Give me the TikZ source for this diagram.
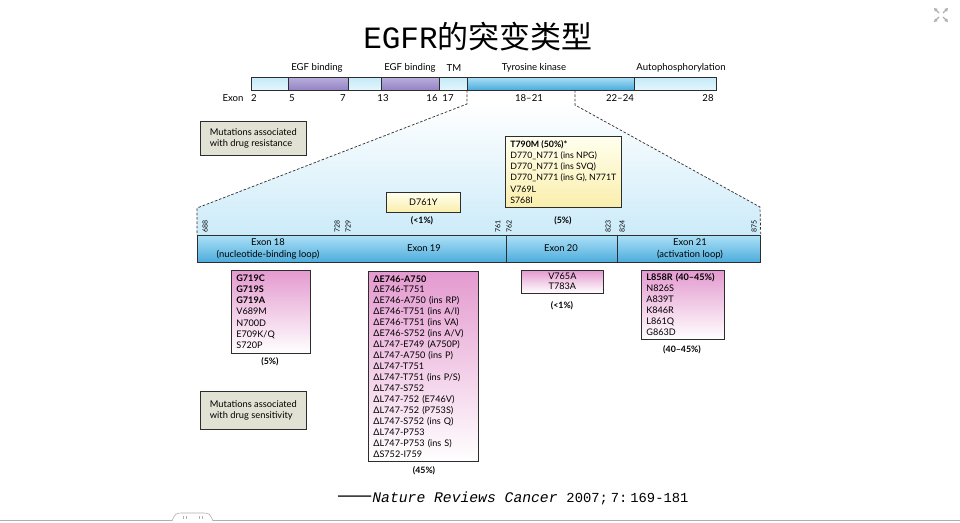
\documentclass[tikz,border=0pt]{standalone}
\usepackage{fontspec}
\setmainfont{Lato}
\newfontfamily\cjkf{Noto Sans CJK SC}
\newfontfamily\titlemono{Liberation Mono}
\usetikzlibrary{arrows.meta}
\definecolor{segT}{RGB}{196,233,248}
\definecolor{segB}{RGB}{226,246,253}
\definecolor{purT}{RGB}{186,174,220}
\definecolor{purB}{RGB}{148,132,196}
\definecolor{tkT}{RGB}{172,224,246}
\definecolor{tkB}{RGB}{76,172,220}
\definecolor{pinkT}{RGB}{228,154,207}
\definecolor{yelT}{RGB}{255,255,238}
\definecolor{yelB}{RGB}{250,238,172}
\definecolor{legfill}{RGB}{226,226,212}
\definecolor{trapB}{RGB}{204,235,249}
\definecolor{edge}{RGB}{45,45,45}
\definecolor{chrome}{RGB}{175,175,175}
\tikzset{
  small/.style={font=\fontsize{9.6}{11}\selectfont, inner sep=0pt},
  exlab/.style={font=\fontsize{9.4}{11.5}\selectfont, inner sep=0pt},
  numsty/.style={font=\fontsize{7}{7}\selectfont, inner sep=0pt, rotate=90, anchor=west},
  boxbase/.style={draw=edge, line width=0.7pt, anchor=north west, inner xsep=5pt, inner ysep=4pt,
    font=\fontsize{9.1}{11.2}\selectfont},
  mbox/.style={boxbase, top color=pinkT, bottom color=white, align=left},
  ybox/.style={boxbase, top color=yelT, bottom color=yelB, align=left},
  legbox/.style={boxbase, fill=legfill, align=left, inner xsep=8pt, inner ysep=5pt,
    font=\fontsize{9.3}{11.6}\selectfont},
  pct/.style={font=\bfseries\fontsize{8.8}{10}\selectfont, inner sep=0pt},
  dashline/.style={draw=edge, line width=0.7pt, dash pattern=on 2.6pt off 1.8pt},
  lightseg/.style={top color=segT, bottom color=segB},
  purseg/.style={top color=purT, bottom color=purB},
  tkseg/.style={top color=tkT, bottom color=tkB},
}
\begin{document}
\begin{tikzpicture}[x=1pt, y=-1pt]
\useasboundingbox (0,0) rectangle (960,522);
\fill[white] (0,0) rectangle (960,522);

% title
\node[inner sep=0pt] (title) at (478,37) {\fontsize{31}{34}\selectfont{\titlemono EGFR}{\cjkf 的突变类型}};

% shaded trapezoid
\coordinate (tkL) at (467,90);
\coordinate (tkR) at (575,90);
\coordinate (kinkL) at (467,104);
\coordinate (kinkR) at (575,105);
\coordinate (exL) at (197,208);
\coordinate (exR) at (760,207);
\shade[top color=white, bottom color=trapB] (kinkL) -- (kinkR) -- (exR) -- (760,235) -- (197,235) -- (exL) -- cycle;

% top bar segments
\shade[lightseg] (251,77) rectangle (288,90);
\shade[purseg] (288,77) rectangle (348,90);
\shade[lightseg] (348,77) rectangle (381,90);
\shade[purseg] (381,77) rectangle (439,90);
\shade[lightseg] (439,77) rectangle (467,90);
\shade[tkseg] (467,77) rectangle (634,90);
\shade[lightseg] (634,77) rectangle (716,90);
\node[draw=edge, line width=0.6pt, anchor=north west, minimum width=465pt, minimum height=13pt, inner sep=0pt] (topbar) at (251,77) {};
\foreach \xx in {288,348,381,439,467,634} \draw[edge, line width=0.6pt] (\xx,77) -- (\xx,90);

% domain labels
\node[small] (d1) at (317,68) {EGF binding};
\node[small] (d2) at (410,68) {EGF binding};
\node[small] (d3) at (454,68) {TM};
\node[small] (d4) at (534,68) {Tyrosine kinase};
\node[small] (d5) at (681,68) {Autophosphorylation};

% exon row
\node[small] (exw) at (233,98) {Exon};
\node[small] (e2) at (254,98) {2};
\node[small] (e5) at (292,98) {5};
\node[small] (e7) at (343,98) {7};
\node[small] (e13) at (383,98) {13};
\node[small] (e16) at (432,98) {16};
\node[small] (e17) at (448,98) {17};
\node[small] (e1821) at (529,98) {18--21};
\node[small] (e2224) at (620,98) {22--24};
\node[small] (e28) at (708,98) {28};

% exon bar
\node[tkseg, draw=edge, line width=0.7pt, anchor=north west, minimum width=563pt, minimum height=27pt, inner sep=0pt] (exbar) at (197,235) {};
\draw[edge, line width=0.7pt] (506,235) -- (506,262);
\draw[edge, line width=0.7pt] (617,235) -- (617,262);

% dashed zoom lines
\draw[dashline] (tkL) -- (kinkL) -- (exL) -- (exbar.north west);
\draw[dashline] (tkR) -- (kinkR) -- (exR) -- (exbar.north east);

% exon labels
\node[exlab, align=center] (x18) at (268,249) {Exon 18\\(nucleotide-binding loop)};
\node[exlab] (x19) at (424,248) {Exon 19};
\node[exlab] (x20) at (561,248) {Exon 20};
\node[exlab, align=center] (x21) at (690,249) {Exon 21\\(activation loop)};

% residue numbers
\node[numsty] (n688) at (205,233) {688};
\node[numsty] (n728) at (337,233) {728};
\node[numsty] (n729) at (348,233) {729};
\node[numsty] (n761) at (498,233) {761};
\node[numsty] (n762) at (509,233) {762};
\node[numsty] (n823) at (608,233) {823};
\node[numsty] (n824) at (622,233) {824};
\node[numsty] (n875) at (754,233) {875};

% legends
\node[legbox, minimum width=106pt, minimum height=34pt] (legR) at (200,121) {Mutations associated\\with drug resistance};
\node[legbox, minimum width=106pt, minimum height=38pt] (legS) at (200,391) {Mutations associated\\with drug sensitivity};

% resistance boxes
\node[ybox, minimum width=115pt, inner ysep=4pt, font=\fontsize{8.8}{11.2}\selectfont] (t790) at (505,136) {\textbf{T790M (50\%)*}\\D770\_N771 (ins NPG)\\D770\_N771 (ins SVQ)\\D770\_N771 (ins G), N771T\\V769L\\S768I};
\node[ybox, minimum width=74pt, minimum height=20pt, align=center] (d761) at (386,192) {D761Y};
\node[pct] (p761) at (422,221) {(<1\%)};
\node[pct] (p20r) at (563,221) {(5\%)};

% sensitivity boxes
\node[mbox, text width=69pt, font=\fontsize{9.1}{11.3}\selectfont] (g719) at (231,270) {\textbf{G719C}\\\textbf{G719S}\\\textbf{G719A}\\V689M\\N700D\\E709K/Q\\S720P};
\node[pct] (p18) at (270,362) {(5\%)};

\node[mbox, text width=100pt, font=\fontsize{9.1}{10.95}\selectfont] (del19) at (368,271) {\textbf{ΔE746-A750}\\ΔE746-T751\\ΔE746-A750 (ins RP)\\ΔE746-T751 (ins A/I)\\ΔE746-T751 (ins VA)\\ΔE746-S752 (ins A/V)\\ΔL747-E749 (A750P)\\ΔL747-A750 (ins P)\\ΔL747-T751\\ΔL747-T751 (ins P/S)\\ΔL747-S752\\ΔL747-752 (E746V)\\ΔL747-752 (P753S)\\ΔL747-S752 (ins Q)\\ΔL747-P753\\ΔL747-P753 (ins S)\\ΔS752-I759};
\node[pct] (p19) at (424,471) {(45\%)};

\node[mbox, text width=72pt, align=center, inner ysep=3pt, font=\fontsize{9.1}{10}\selectfont] (v765) at (521,270) {V765A\\T783A};
\node[pct] (p20) at (562,306) {(<1\%)};

\node[mbox, text width=73pt, inner ysep=3.5pt, font=\fontsize{9.1}{11}\selectfont] (l858) at (641,270) {\textbf{L858R (40--45\%)}\\N826S\\A839T\\K846R\\L861Q\\G863D};
\node[pct] (p21) at (682,350) {(40--45\%)};

% citation
\node[inner sep=0pt, anchor=west] (cite) at (337,498) {{\cjkf\fontsize{21}{22}\selectfont ——}{\fontsize{14.7}{16}\selectfont\titlemono\itshape Nature Reviews Cancer }{\fontsize{13.8}{16}\selectfont\titlemono 2007;\hspace{3pt}7:\hspace{3pt}169-181}};

% screen chrome: expand icon and bottom bar
\begin{scope}[chrome, line width=1.3pt, -{Triangle[length=3.2pt,width=3.6pt]}]
\draw (939,13) -- (934,8);
\draw (943,13) -- (948,8);
\draw (939,17) -- (934,22);
\draw (943,17) -- (948,22);
\end{scope}
\draw[chrome, line width=0.8pt] (0,520.5) -- (960,520.5);
\draw[chrome, line width=0.6pt, fill=white] (172,521) .. controls (175,514) and (176,513) .. (181,513) -- (204,513) .. controls (209,513) and (210,514) .. (213,521);
\foreach \xx in {183,186,199,202} \draw[chrome, line width=0.4pt] (\xx,516) -- (\xx,519);
\end{tikzpicture}
\end{document}
